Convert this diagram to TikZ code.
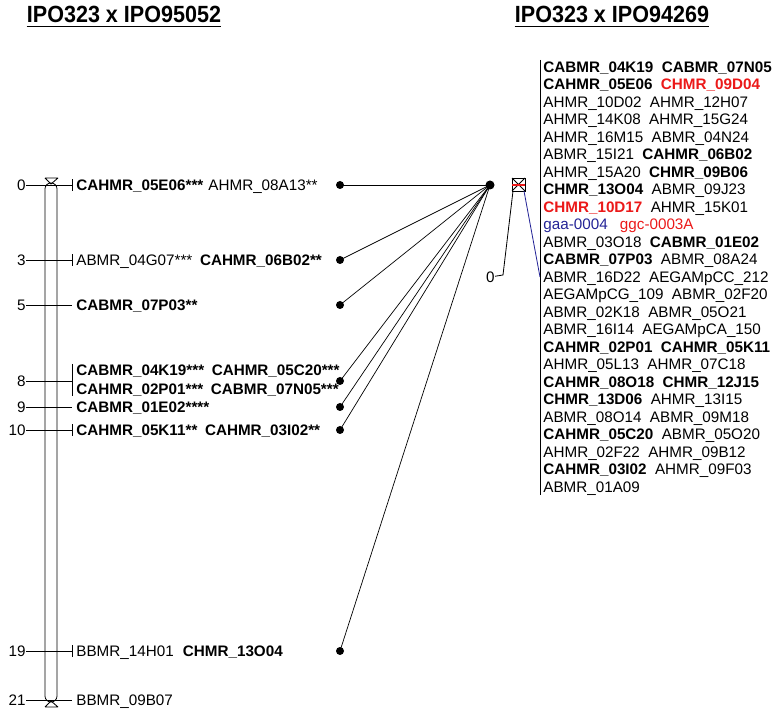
\documentclass[tikz,border=0pt]{standalone}
\usepackage{fontspec}
\setmainfont{Liberation Sans}
\usetikzlibrary{positioning}
\definecolor{mkred}{RGB}{235,25,25}
\definecolor{mkblue}{RGB}{35,35,150}

\begin{document}
\begin{tikzpicture}[x=0.03cm, y=-0.03cm, line width=0.7pt,
    lbl/.style={anchor=west, inner sep=0pt, text height=9.3pt,
                text depth=0pt, font=\fontsize{13}{15}\selectfont},
    cmlbl/.style={anchor=east, inner sep=0pt, text height=9.3pt,
                  text depth=0pt, font=\fontsize{13}{15}\selectfont},
    mdot/.style={circle, fill, inner sep=0pt, minimum size=0.24cm},
    title/.style={anchor=base, inner sep=0pt, xscale=0.92,
                  font=\fontsize{20}{24}\selectfont\bfseries},
    link/.style={line width=0.6pt}
  ]
  \useasboundingbox (0,0) rectangle (773,711);

  % Titles
  \node[title] (tl) at (124,23) {IPO323 x IPO95052};
  \node[title] (tr) at (612,23) {IPO323 x IPO94269};
  \draw[line width=1.4pt] ([yshift=-3pt]tl.base west) -- ([yshift=-3pt]tl.base east);
  \draw[line width=1.4pt] ([yshift=-3pt]tr.base west) -- ([yshift=-3pt]tr.base east);

  % Left linkage group
  \draw[rounded corners=5] (45,183) rectangle (57,702);
  \draw (45,178) -- (58,178) (45,178) -- (51,184) -- (58,178);
  \draw (45,707) -- (58,707) (45,707) -- (51,701) -- (58,707);

  % Positions (cM)
  \node[cmlbl] (n0)  at (26,185) {0};
  \node[cmlbl] (n3)  at (26,260) {3};
  \node[cmlbl] (n5)  at (26,305) {5};
  \node[cmlbl] (n8)  at (26,381) {8};
  \node[cmlbl] (n9)  at (26,407) {9};
  \node[cmlbl] (n10) at (26,430) {10};
  \node[cmlbl] (n19) at (26,651) {19};
  \node[cmlbl] (n21) at (26,700) {21};

  % Markers
  \node[lbl] (l0)  at (76,185) {\textbf{CAHMR\_05E06***}\hspace{0.33em}AHMR\_08A13**};
  \node[lbl] (l3)  at (76,260) {ABMR\_04G07***\hspace{0.5em}\textbf{CAHMR\_06B02**}};
  \node[lbl] (l5)  at (76,305) {\textbf{CABMR\_07P03**}};
  \node[lbl] (l8a) at (76,370) {\textbf{CABMR\_04K19***\hspace{0.5em}CAHMR\_05C20***}};
  \node[lbl] (l8b) at (76,389) {\textbf{CAHMR\_02P01***\hspace{0.5em}CABMR\_07N05***}};
  \node[lbl] (l9)  at (76,407) {\textbf{CABMR\_01E02****}};
  \node[lbl] (l10) at (76,430) {\textbf{CAHMR\_05K11**\hspace{0.5em}CAHMR\_03I02**}};
  \node[lbl] (l19) at (76,651) {BBMR\_14H01\hspace{0.6em}\textbf{CHMR\_13O04}};
  \node[lbl] (l21) at (76,700) {BBMR\_09B07};

  % Ticks
  \coordinate (b0)  at (72,185);
  \coordinate (b3)  at (72,260);
  \coordinate (b5)  at (72,305);
  \coordinate (b8)  at (72,381);
  \coordinate (b9)  at (72,407);
  \coordinate (b10) at (72,430);
  \coordinate (b19) at (72,651);
  \coordinate (b21) at (72,700);
  \draw (n0) -- (b0);   \draw ([yshift=5pt]b0) -- ([yshift=-5pt]b0);
  \draw (n3) -- (b3);   \draw ([yshift=5pt]b3) -- ([yshift=-5pt]b3);
  \draw (n5) -- (b5);
  \draw (n8) -- (b8);   \draw (72,364) -- (72,396);
  \draw (n9) -- (b9);
  \draw (n10) -- (b10); \draw ([yshift=5pt]b10) -- ([yshift=-5pt]b10);
  \draw (n19) -- (b19); \draw ([yshift=5pt]b19) -- ([yshift=-5pt]b19);
  \draw (n21) -- (b21);

  % Homology links
  \node[mdot] (d0)  at (340,185) {};
  \node[mdot] (d3)  at (340,260) {};
  \node[mdot] (d5)  at (340,305) {};
  \node[mdot] (d8)  at (340,381) {};
  \node[mdot] (d9)  at (340,407) {};
  \node[mdot] (d10) at (340,430) {};
  \node[mdot] (d19) at (340,651) {};
  \node[mdot, minimum size=0.27cm] (hub) at (490,185) {};
  \draw[link] (d0.center) -- (hub.center);
  \draw[link] (d3.center) -- (hub.center);
  \draw[link] (d5.center) -- (hub.center);
  \draw[link] (d8.center) -- (hub.center);
  \draw[link] (d9.center) -- (hub.center);
  \draw[link] (d10.center) -- (hub.center);
  \draw[link] (d19.center) -- (hub.center);

  % Right linkage group
  \draw (512,178) rectangle (525,191);
  \draw (512,178) -- (525,191) (525,178) -- (512,191);
  \draw[mkred, line width=1pt] (512,185) -- (525,185);
  \node[cmlbl] (m0) at (495,277) {0};
  \coordinate (c0) at (503,275);
  \coordinate (col) at (540,277);
  \draw (513,191) -- (c0) -- (m0);
  \draw[mkblue] (524,191) -- (col);
  \draw (540,60) -- (540,495);

  % Marker column
  \node[lbl] (r1)  at (543,67)    {\textbf{CABMR\_04K19}\hspace{0.55em}\textbf{CABMR\_07N05}};
  \node[lbl] (r2)  at (543,84.5)  {\textbf{CAHMR\_05E06}\hspace{0.55em}\textcolor{mkred}{\textbf{CHMR\_09D04}}};
  \node[lbl] (r3)  at (543,102)   {AHMR\_10D02\hspace{0.55em}AHMR\_12H07};
  \node[lbl] (r4)  at (543,119.5) {AHMR\_14K08\hspace{0.55em}AHMR\_15G24};
  \node[lbl] (r5)  at (543,137)   {AHMR\_16M15\hspace{0.55em}ABMR\_04N24};
  \node[lbl] (r6)  at (543,154.5) {ABMR\_15I21\hspace{0.55em}\textbf{CAHMR\_06B02}};
  \node[lbl] (r7)  at (543,172)   {AHMR\_15A20\hspace{0.55em}\textbf{CHMR\_09B06}};
  \node[lbl] (r8)  at (543,189.5) {\textbf{CHMR\_13O04}\hspace{0.55em}ABMR\_09J23};
  \node[lbl] (r9)  at (543,207)   {\textcolor{mkred}{\textbf{CHMR\_10D17}}\hspace{0.55em}AHMR\_15K01};
  \node[lbl] (r10) at (543,224.5) {\textcolor{mkblue}{gaa-0004}\hspace{0.8em}\textcolor{mkred}{ggc-0003A}};
  \node[lbl] (r11) at (543,242)   {ABMR\_03O18\hspace{0.55em}\textbf{CABMR\_01E02}};
  \node[lbl] (r12) at (543,259.5) {\textbf{CABMR\_07P03}\hspace{0.55em}ABMR\_08A24};
  \node[lbl] (r13) at (543,277)   {ABMR\_16D22\hspace{0.55em}AEGAMpCC\_212};
  \node[lbl] (r14) at (543,294.5) {AEGAMpCG\_109\hspace{0.55em}ABMR\_02F20};
  \node[lbl] (r15) at (543,312)   {ABMR\_02K18\hspace{0.55em}ABMR\_05O21};
  \node[lbl] (r16) at (543,329.5) {ABMR\_16I14\hspace{0.55em}AEGAMpCA\_150};
  \node[lbl] (r17) at (543,347)   {\textbf{CAHMR\_02P01}\hspace{0.55em}\textbf{CAHMR\_05K11}};
  \node[lbl] (r18) at (543,364.5) {AHMR\_05L13\hspace{0.55em}AHMR\_07C18};
  \node[lbl] (r19) at (543,382)   {\textbf{CAHMR\_08O18}\hspace{0.55em}\textbf{CHMR\_12J15}};
  \node[lbl] (r20) at (543,399.5) {\textbf{CHMR\_13D06}\hspace{0.55em}AHMR\_13I15};
  \node[lbl] (r21) at (543,417)   {ABMR\_08O14\hspace{0.55em}ABMR\_09M18};
  \node[lbl] (r22) at (543,434.5) {\textbf{CAHMR\_05C20}\hspace{0.55em}ABMR\_05O20};
  \node[lbl] (r23) at (543,452)   {AHMR\_02F22\hspace{0.55em}AHMR\_09B12};
  \node[lbl] (r24) at (543,469.5) {\textbf{CAHMR\_03I02}\hspace{0.55em}AHMR\_09F03};
  \node[lbl] (r25) at (543,487)   {ABMR\_01A09};
\end{tikzpicture}
\end{document}
